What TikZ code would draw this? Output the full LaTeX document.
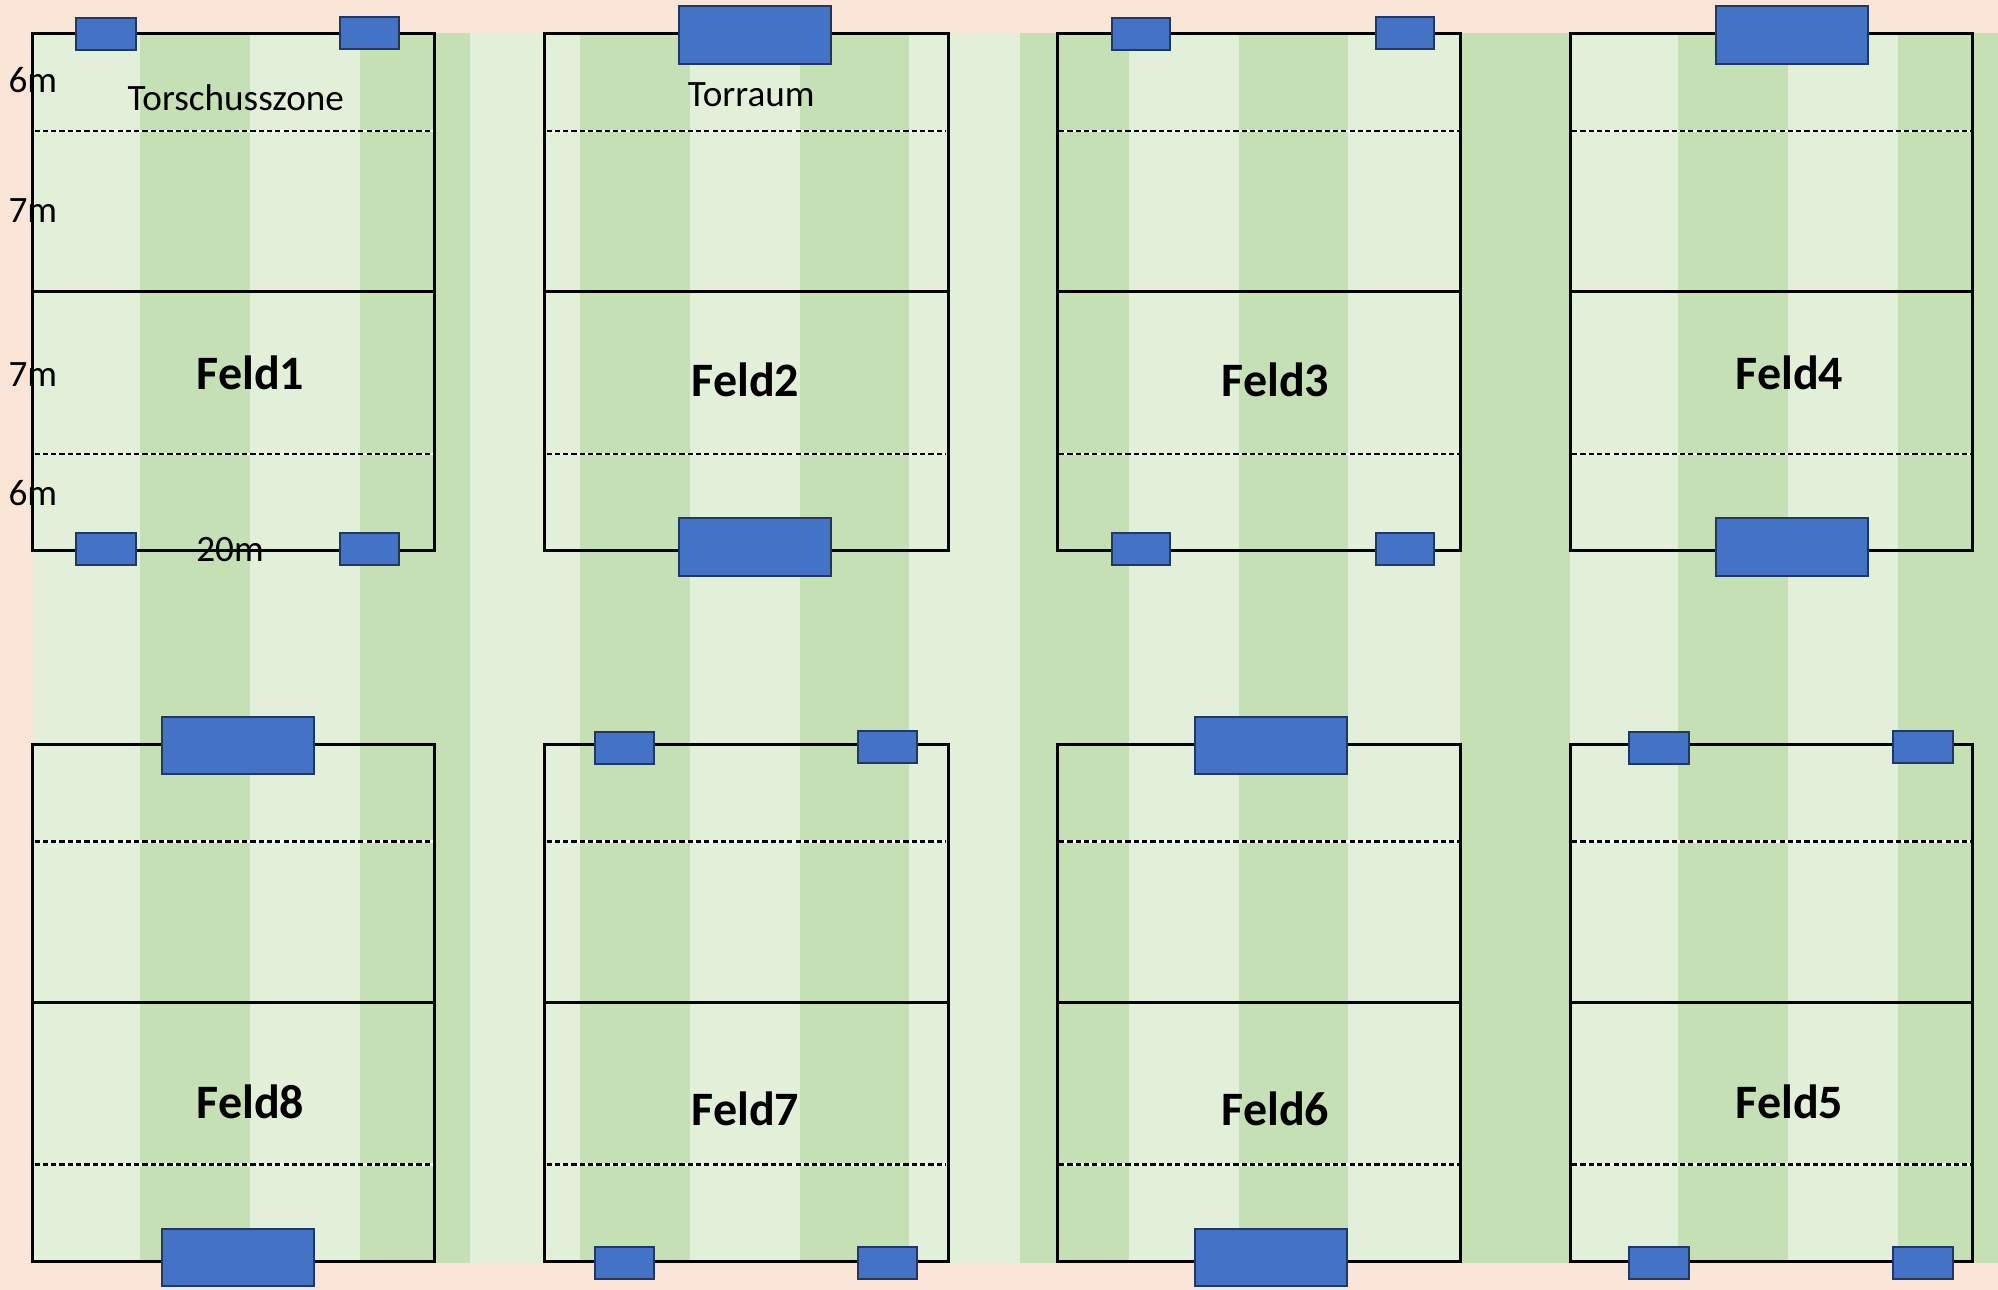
\documentclass[tikz,border=0pt]{standalone}
\usepackage{fontspec}
\setmainfont{Carlito}
\definecolor{peach}{HTML}{FBE5D6}
\definecolor{lightgr}{HTML}{E2F0D9}
\definecolor{darkgr}{HTML}{C5E0B4}
\definecolor{goalblue}{HTML}{4472C4}
\definecolor{goalline}{HTML}{1F3864}
\tikzset{
  px/.style={x=0.5pt,y=-0.5pt},
  frameline/.style={draw=black,line width=1.5pt},
  dashwhite/.style={draw=white,line width=1.3pt},
  dashblack/.style={draw=black,line width=1.25pt,dash pattern=on 2.6pt off 1.55pt},
  goal/.style={fill=goalblue,draw=goalline,line width=1pt},
  fieldlabel/.style={font=\fontsize{24}{28}\selectfont\bfseries,anchor=base,inner sep=0pt},
  smalllabel/.style={font=\fontsize{18.6}{22}\selectfont,anchor=base,inner sep=0pt},
}
% #1 left x, #2 top y, #3 width
\newcommand{\courtframe}[3]{%
  \draw[frameline] (#1,#2) rectangle ++(#3,517);
  \draw[frameline] (#1,#2+258) -- ++(#3,0);
  \draw[dashwhite] (#1+2,#2+97.5) -- ++(#3-4,0);
  \draw[dashblack] (#1+2,#2+97.5) -- ++(#3-4,0);
  \draw[dashwhite] (#1+2,#2+420.5) -- ++(#3-4,0);
  \draw[dashblack] (#1+2,#2+420.5) -- ++(#3-4,0);
}
\newcommand{\goalbox}[5]{\draw[goal] (#2+0.6,#3+0.6) rectangle (#4-0.3,#5-0.3) coordinate (#1);}
\begin{document}
\begin{tikzpicture}[px]
\useasboundingbox (0,0) rectangle (1998,1290);
\fill[peach] (0,0) rectangle (1998,1290);
% stripes
\fill[lightgr] (32.5,33.3) rectangle (1998,1262.7);
\foreach \a/\b in {140/250,360/470,580/690,800/909,1020/1129,1239/1348,1460/1570,1678/1788,1898/1998}
  \fill[darkgr] (\a,33.3) rectangle (\b,1262.7);
% courts
\foreach \xx/\ww in {32.5/402,544.5/403.5,1057/403.5,1570/402.5}{
  \courtframe{\xx}{33.3}{\ww}
  \courtframe{\xx}{744}{\ww}
}
% goals
\goalbox{a1}{75.4}{17}{136}{50}
\goalbox{a2}{339}{16}{399.5}{49}
\goalbox{a3}{75.4}{532.7}{136}{565.7}
\goalbox{a4}{339}{532.7}{399.5}{565.7}
\goalbox{b1}{678}{5}{831}{64}
\goalbox{b2}{678}{517}{831}{576}
\goalbox{c1}{1111}{17}{1170.5}{50}
\goalbox{c2}{1375}{16}{1434}{49}
\goalbox{c3}{1111}{532.7}{1170.5}{565.7}
\goalbox{c4}{1375}{532.7}{1434}{565.7}
\goalbox{d1}{1715}{5}{1868}{64}
\goalbox{d2}{1715}{517}{1868}{576}
\goalbox{h1}{161.5}{716}{314.6}{774.7}
\goalbox{h2}{161.5}{1228}{314.6}{1286}
\goalbox{g1}{594}{731}{654}{764}
\goalbox{g2}{857.5}{730}{917}{763}
\goalbox{g3}{594}{1246}{654}{1279.3}
\goalbox{g4}{857.5}{1246}{917}{1279.3}
\goalbox{f1}{1194}{716}{1347}{774.7}
\goalbox{f2}{1194}{1228}{1347}{1286}
\goalbox{e1}{1628.5}{731}{1689}{764}
\goalbox{e2}{1892}{730}{1953}{763}
\goalbox{e3}{1628.5}{1246}{1689}{1279.3}
\goalbox{e4}{1892}{1246}{1953}{1279.3}
% labels
\node[smalllabel] (t1) at (235.8,110) {Torschusszone};
\node[smalllabel] (t2) at (751.3,106) {Torraum};
\node[smalllabel] (m1) at (32.8,92.5) {6m};
\node[smalllabel] (m2) at (32.8,222.5) {7m};
\node[smalllabel] (m3) at (32.8,386.5) {7m};
\node[smalllabel] (m4) at (32.8,505.5) {6m};
\node[smalllabel] (m5) at (230,561.5) {20m};
\node[fieldlabel] (F1) at (250.5,389) {Feld1};
\node[fieldlabel] (F2) at (745.5,396) {Feld2};
\node[fieldlabel] (F3) at (1275.5,396) {Feld3};
\node[fieldlabel] (F4) at (1789.5,389) {Feld4};
\node[fieldlabel] (F5) at (1789.5,1118.7) {Feld5};
\node[fieldlabel] (F6) at (1275.5,1125) {Feld6};
\node[fieldlabel] (F7) at (745.5,1125) {Feld7};
\node[fieldlabel] (F8) at (250.5,1118.7) {Feld8};
\end{tikzpicture}
\end{document}
